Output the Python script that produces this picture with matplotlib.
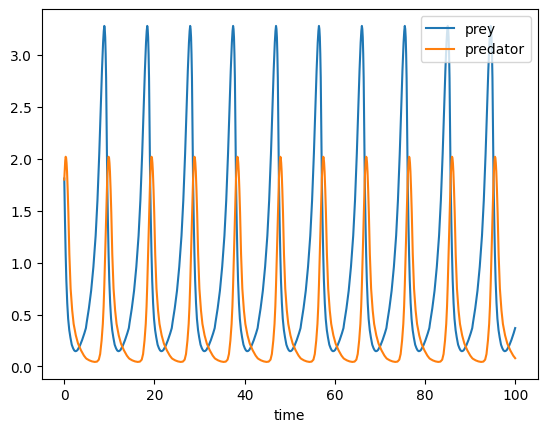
import numpy as np
import matplotlib
matplotlib.use("Agg")
import matplotlib.pyplot as plt

# times of the prey peaks
prey_peak_times = [-0.64, 8.88, 18.40, 27.92, 37.44, 46.96, 56.48, 66.00, 75.52, 85.04, 94.56]

# one cycle of each curve, offset (in time) from the prey peak
prey_offset = [0.0, 0.1, 0.2, 0.3, 0.4, 0.5, 0.64, 0.8, 0.95, 1.1, 1.3, 1.5, 1.75, 2.0,
               2.3, 2.6, 2.85, 3.1, 3.35, 3.6, 4.1, 4.6, 5.1, 5.44, 5.6, 6.1, 6.6, 7.1,
               7.6, 8.0, 8.4, 8.7, 9.0, 9.25, 9.4]
prey_cycle = [3.28, 3.25, 3.17, 3.01, 2.78, 2.40, 1.81, 1.40, 1.08, 0.83, 0.61, 0.46, 0.35, 0.28,
              0.21, 0.175, 0.155, 0.147, 0.150, 0.160, 0.20, 0.255, 0.32, 0.37, 0.42, 0.56, 0.73, 0.96,
              1.26, 1.60, 2.05, 2.45, 2.85, 3.12, 3.23]

pred_offset = [0.0, 0.15, 0.3, 0.45, 0.64, 0.75, 0.85, 0.95, 1.05, 1.15, 1.25, 1.4, 1.55, 1.77,
               2.05, 2.4, 2.72, 3.2, 3.7, 4.36, 5.0, 5.44, 5.6, 6.2, 6.8, 7.4, 7.9, 8.3,
               8.6, 8.92, 9.19, 9.37]
pred_cycle = [0.78, 1.02, 1.27, 1.52, 1.80, 1.90, 1.98, 2.02, 2.01, 1.96, 1.88, 1.70, 1.48, 1.08,
              0.75, 0.54, 0.41, 0.30, 0.22, 0.155, 0.105, 0.080, 0.074, 0.059, 0.049, 0.044, 0.047, 0.066,
              0.12, 0.25, 0.41, 0.58]


def build_series(offsets, cycle):
    # place the read cycle at every prey peak and keep what lies on 0..100
    t = np.concatenate([p + np.array(offsets) for p in prey_peak_times])
    v = np.tile(cycle, len(prey_peak_times))
    keep = (t > -1e-6) & (t < 100 + 1e-6)
    return t[keep], v[keep]


t_prey, prey = build_series(prey_offset, prey_cycle)
t_pred, pred = build_series(pred_offset, pred_cycle)

fig, ax = plt.subplots(figsize=(6.4, 4.8), dpi=100)
ax.plot(t_prey, prey, label="prey")
ax.plot(t_pred, pred, label="predator")
ax.set_xlabel("time")
ax.legend(loc="upper right")

plt.savefig("out.png", dpi=100, bbox_inches="tight")
